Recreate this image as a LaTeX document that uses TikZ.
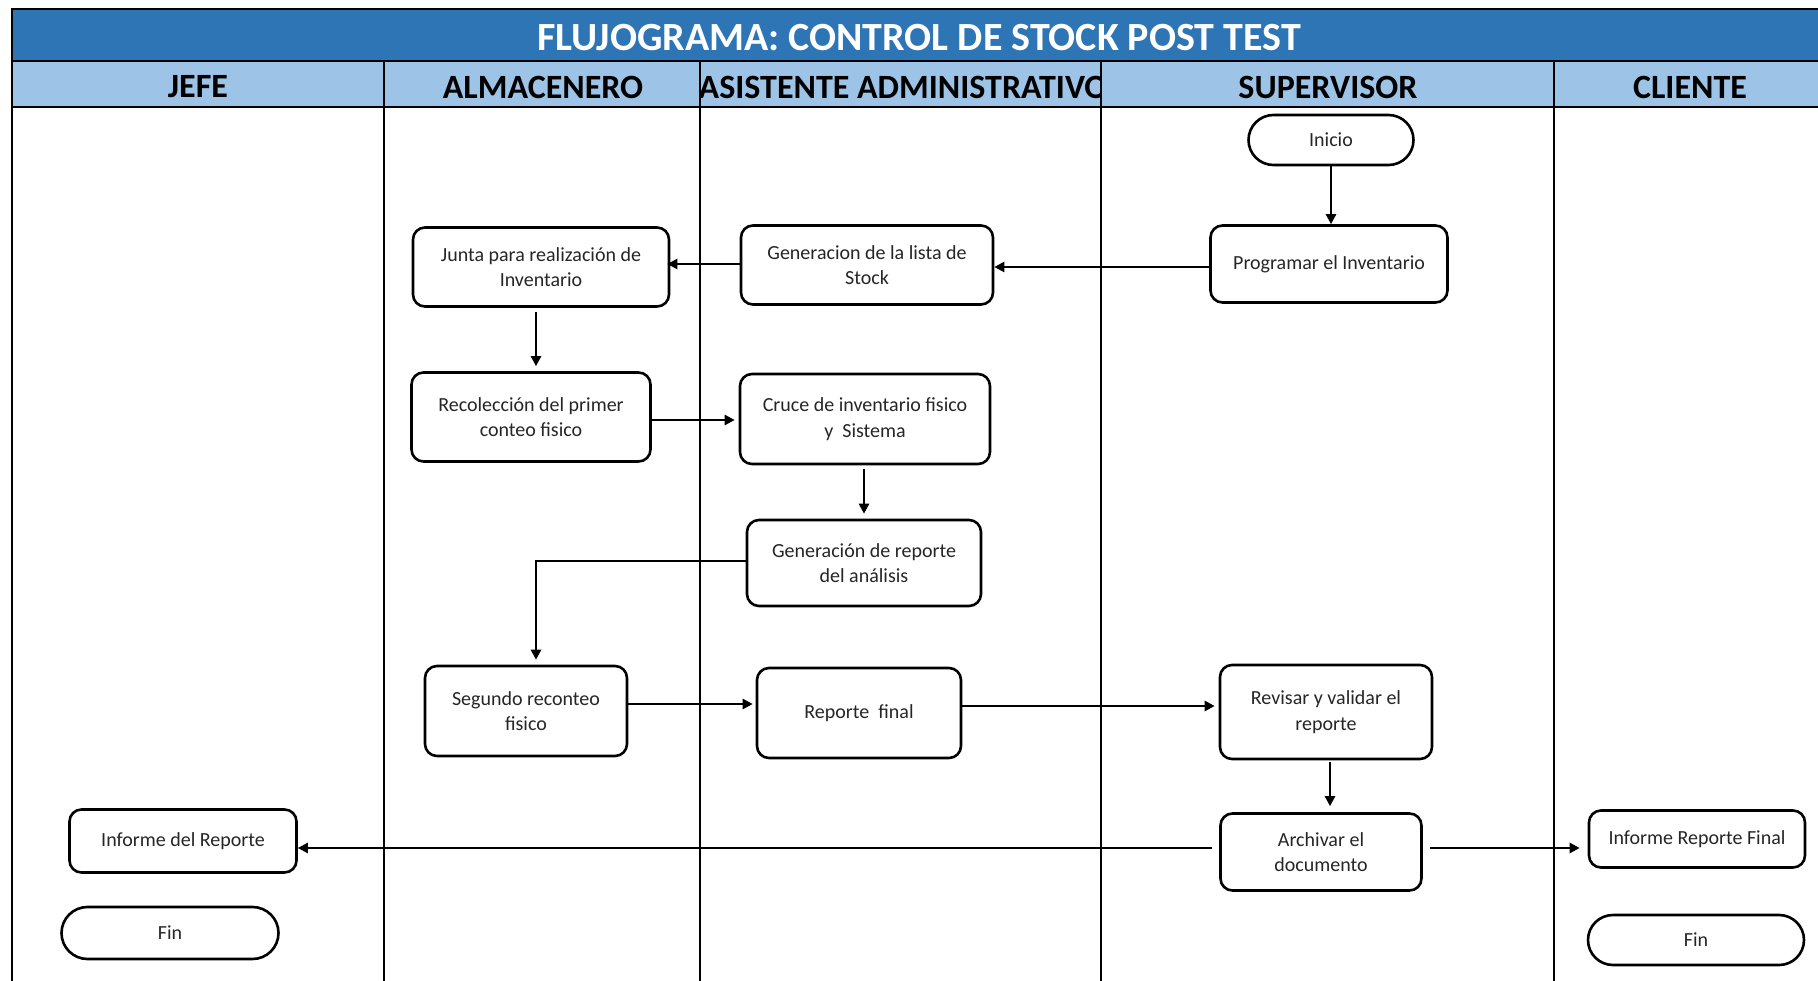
\documentclass[tikz,border=0pt]{standalone}
\usepackage{fontspec}
\setmainfont{Carlito}
\usetikzlibrary{arrows.meta,shapes.misc}
\definecolor{titleblue}{HTML}{2E75B6}
\definecolor{headblue}{HTML}{9DC3E6}
\begin{document}
\begin{tikzpicture}[x=1pt,y=-1pt,
  box/.style={draw, line width=2.6pt, rounded corners=12pt, fill=white, align=center, inner sep=0pt, font=\fontsize{20}{25.5}\selectfont, text=black!85},
  term/.style={draw, line width=2.6pt, rounded rectangle, fill=white, inner sep=0pt, font=\fontsize{20}{24}\selectfont, text=black!85},
  arr/.style={line width=2.4pt, -{Triangle[length=10pt,width=10pt]}},
  lane/.style={line width=2.6pt},
  headtext/.style={font=\bfseries\fontsize{34}{36}\selectfont},
]
\useasboundingbox (0,0) rectangle (1818,981);
\fill[titleblue] (12,9) rectangle (1830,61);
\fill[headblue] (12,61) rectangle (1830,107);
\draw[lane] (1830,9) -- (12,9) -- (12,990);
\draw[lane] (12,61) -- (1830,61);
\draw[lane] (12,107) -- (1830,107);
\foreach \x in {384,700,1101,1554} \draw[lane] (\x,61) -- (\x,990);

% title and headers
\node[font=\bfseries\fontsize{40}{42}\selectfont, text=white] (title) at (919,38) {FLUJOGRAMA: CONTROL DE STOCK POST TEST};
\node[headtext] (hjefe) at (198,87) {JEFE};
\node[headtext] (halm) at (543,87) {ALMACENERO};
\begin{scope}
\clip (701,62) rectangle (1100,106);
\node[headtext] (hasis) at (903,87) {ASISTENTE ADMINISTRATIVO};
\end{scope}
\node[headtext] (hsup) at (1328,87) {SUPERVISOR};
\node[headtext] (hcli) at (1690,87) {CLIENTE};

% columns for vertical connectors
\coordinate (colA) at (536,0);
\coordinate (colB) at (1330,0);

% nodes
\node[term, minimum width=165pt, minimum height=50pt] (inicio) at (1331,140) {Inicio};
\node[box, minimum width=237pt, minimum height=77pt] (prog) at (1329,264) {Programar el Inventario};
\node[box, minimum width=252pt, minimum height=79pt] (genlista) at (867,265) {Generacion de la lista de\\Stock};
\node[box, minimum width=256pt, minimum height=79pt] (junta) at (541,267) {Junta para realización de\\Inventario};
\node[box, minimum width=239pt, minimum height=89pt] (recol) at (531,417) {Recolección del primer\\conteo fisico};
\node[box, minimum width=250pt, minimum height=90pt] (cruce) at (865,419) {Cruce de inventario fisico\\y~~Sistema};
\node[box, minimum width=234pt, minimum height=86pt] (genrep) at (864,563) {Generación de reporte\\del análisis};
\node[box, minimum width=202pt, minimum height=90pt] (segundo) at (526,711) {Segundo reconteo\\fisico};
\node[box, minimum width=204pt, minimum height=90pt] (repfinal) at (859,713) {Reporte~~final};
\node[box, minimum width=212pt, minimum height=94pt] (revisar) at (1326,712) {Revisar y validar el\\reporte};
\node[box, minimum width=201pt, minimum height=77pt] (archivar) at (1321,852) {Archivar el\\documento};
\node[box, minimum width=227pt, minimum height=63pt] (infrep) at (183,841) {Informe del Reporte};
\node[term, minimum width=217pt, minimum height=52pt] (fin1) at (170,933) {Fin};
\node[box, minimum width=216pt, minimum height=57pt] (inffinal) at (1697,839) {Informe Reporte Final};
\node[term, minimum width=216pt, minimum height=50pt] (fin2) at (1696,940) {Fin};

% connectors
\draw[arr] (inicio.south) -- (inicio.south |- prog.north);
\draw[arr] ([yshift=-3pt]prog.west) -- ([yshift=-3pt]prog.west -| genlista.east);
\draw[arr] ([yshift=1pt]genlista.west) -- ([yshift=1pt,xshift=-3pt]genlista.west -| junta.east);
\draw[arr, shorten <=4pt, shorten >=5pt] (junta.south -| colA) -- (recol.north -| colA);
\draw[arr, shorten >=4pt] ([yshift=-3pt]recol.east) -- ([yshift=-3pt]recol.east -| cruce.west);
\draw[arr, shorten <=4pt, shorten >=5pt] (cruce.south -| genrep.north) -- (genrep.north);
\draw[arr, shorten >=5pt] ([yshift=2pt]genrep.west) -| (segundo.north -| colA);
\draw[arr, shorten >=3pt] ([yshift=7pt]segundo.east) -- ([yshift=7pt]segundo.east -| repfinal.west);
\draw[arr, shorten >=4pt] ([yshift=7pt]repfinal.east) -- ([yshift=7pt]repfinal.east -| revisar.west);
\draw[arr, shorten <=2pt, shorten >=6pt] (revisar.south -| colB) -- (archivar.north -| colB);
\draw[arr, shorten <=7pt] ([yshift=4pt]archivar.west) -- ([yshift=4pt]archivar.west -| infrep.east);
\draw[arr, shorten <=7pt, shorten >=8pt] ([yshift=4pt]archivar.east) -- ([yshift=4pt]archivar.east -| inffinal.west);
\end{tikzpicture}
\end{document}
